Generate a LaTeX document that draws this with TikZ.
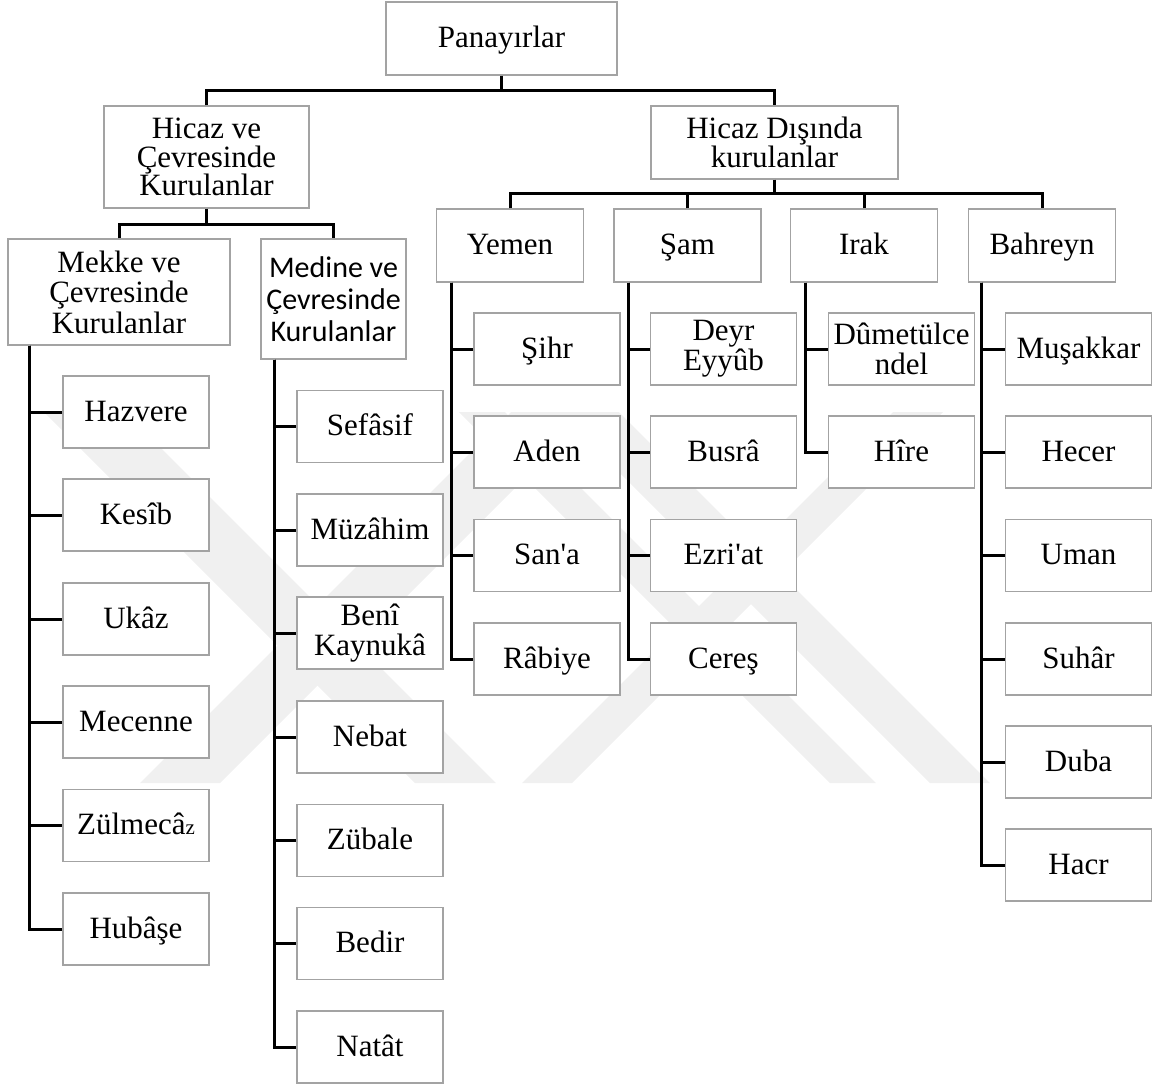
\documentclass[tikz,border=0pt]{standalone}
\usepackage{fontspec}
\setmainfont{Liberation Serif}
\newfontfamily\sansf{Carlito}
\newfontfamily\sqf{Liberation Serif}
\newcommand{\sq}{{\sqf\symbol{39}}}
\begin{document}
\begin{tikzpicture}[x=1pt,y=-1pt,
  bx/.style={draw=black!36, line width=1.2pt, fill=white, align=center, inner sep=0pt,
     font=\fontsize{31}{30}\selectfont},
  one/.style={text height=21pt, text depth=3pt},
  cb/.style={bx, minimum width=146pt, minimum height=72pt},
  cbo/.style={cb, one},
  lv/.style={bx, one, minimum width=147pt, minimum height=73pt},
  ln/.style={line width=3pt, black},
  wm/.style={fill=black!6}]
\useasboundingbox (0,0) rectangle (1153,1085);
% faint watermark
\fill[wm] (44,412) -- (125,412) -- (496,783) -- (415,783) -- cycle;
\fill[wm] (140,783) -- (220,783) -- (591,412) -- (511,412) -- cycle;
\fill[wm] (522,783) -- (572,783) -- (943,412) -- (893,412) -- cycle;
\fill[wm] (830,783) -- (876,783) -- (505,412) -- (459,412) -- cycle;
\fill[wm] (930,783) -- (990,783) -- (619,412) -- (559,412) -- cycle;
% bus levels
\coordinate (b0) at (0,90);
\coordinate (b1) at (0,224);
\coordinate (b2) at (0,193.5);
% top levels
\node[bx, one, minimum width=231pt, minimum height=73pt] (pan) at (501.5,38.5) {Panayırlar};
\node[bx, minimum width=205pt, minimum height=102pt, font=\fontsize{31}{28.5}\selectfont] (hic) at (206.5,157) {Hicaz ve\\Çevresinde\\Kurulanlar};
\node[bx, minimum width=247pt, minimum height=73pt, font=\fontsize{31}{25.5}\selectfont] (dis) at (774.5,142.5) {Hicaz Dışında\\kurulanlar};
\node[bx, minimum width=222pt, minimum height=106pt, font=\fontsize{31}{30.5}\selectfont] (mek) at (119,292) {Mekke ve\\Çevresinde\\Kurulanlar};
\node[bx, minimum width=145pt, minimum height=120pt, font=\sansf\fontsize{30}{32}\selectfont] (med) at (333.5,299) {Medine ve\\Çevresinde\\Kurulanlar};
\node[lv] (yem) at (510,245.5) {Yemen};
\node[lv] (sam) at (687.5,245.5) {Şam};
\node[lv] (irk) at (864,245.5) {Irak};
\node[lv] (bah) at (1042,245.5) {Bahreyn};
% Mekke children
\node[cbo] (m1) at (136,412) {Hazvere};
\node[cbo] (m2) at (136,515) {Kesîb};
\node[cbo] (m3) at (136,619) {Ukâz};
\node[cbo] (m4) at (136,722) {Mecenne};
\node[cbo] (m5) at (136,825.5) {Zülmecâ{\fontsize{21}{21}\selectfont z}};
\node[cbo] (m6) at (136,929) {Hubâşe};
% Medine children
\node[cbo] (d1) at (370,426.5) {Sefâsif};
\node[cbo] (d2) at (370,530) {Müzâhim};
\node[cb] (d3) at (370,633) {Benî\\Kaynukâ};
\node[cbo] (d4) at (370,737) {Nebat};
\node[cbo] (d5) at (370,840.5) {Zübale};
\node[cbo] (d6) at (370,943.5) {Bedir};
\node[cbo] (d7) at (370,1047) {Natât};
% Yemen children
\node[cbo] (y1) at (547,349) {Şihr};
\node[cbo] (y2) at (547,452) {Aden};
\node[cbo] (y3) at (547,555.5) {San\sq a};
\node[cbo] (y4) at (547,659) {Râbiye};
% Sam children
\node[cb] (s1) at (723.5,349) {Deyr\\Eyyûb};
\node[cbo] (s2) at (723.5,452) {Busrâ};
\node[cbo] (s3) at (723.5,555.5) {Ezri\sq at};
\node[cbo] (s4) at (723.5,659) {Cereş};
% Irak children
\node[cb] (i1) at (901.5,349) {Dûmetülce\\ndel};
\node[cbo] (i2) at (901.5,452) {Hîre};
% Bahreyn children
\node[cbo] (h1) at (1078.5,349) {Muşakkar};
\node[cbo] (h2) at (1078.5,452) {Hecer};
\node[cbo] (h3) at (1078.5,555.5) {Uman};
\node[cbo] (h4) at (1078.5,659) {Suhâr};
\node[cbo] (h5) at (1078.5,762) {Duba};
\node[cbo] (h6) at (1078.5,865) {Hacr};
% connectors
\draw[ln] (pan.south) -- (pan.south |- b0);
\draw[ln] (hic.north) |- (dis.north |- b0) -- (dis.north);
\draw[ln] (hic.south) -- (hic.south |- b1);
\draw[ln] (mek.north) |- (med.north |- b1) -- (med.north);
\draw[ln] (dis.south) -- (dis.south |- b2);
\draw[ln] (yem.north) |- (bah.north |- b2) -- (bah.north);
\draw[ln] (sam.north) -- (sam.north |- b2);
\draw[ln] (irk.north) -- (irk.north |- b2);
\foreach \c in {m1,m2,m3,m4,m5,m6} \draw[ln] ([xshift=22pt]mek.south west) |- (\c.west);
\foreach \c in {d1,d2,d3,d4,d5,d6,d7} \draw[ln] ([xshift=14pt]med.south west) |- (\c.west);
\foreach \c in {y1,y2,y3,y4} \draw[ln] ([xshift=15.5pt]yem.south west) |- (\c.west);
\foreach \c in {s1,s2,s3,s4} \draw[ln] ([xshift=15.5pt]sam.south west) |- (\c.west);
\foreach \c in {i1,i2} \draw[ln] ([xshift=15.5pt]irk.south west) |- (\c.west);
\foreach \c in {h1,h2,h3,h4,h5,h6} \draw[ln] ([xshift=14pt]bah.south west) |- (\c.west);
\end{tikzpicture}
\end{document}
